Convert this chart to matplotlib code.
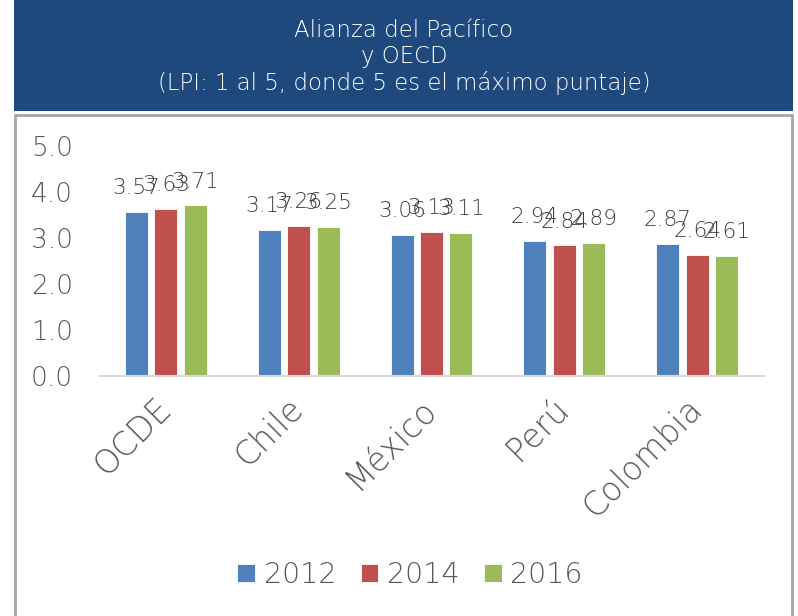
import matplotlib
matplotlib.use("Agg")
import matplotlib.pyplot as plt
from matplotlib.patches import Rectangle
import numpy as np

categories = ["OCDE", "Chile", "México", "Perú", "Colombia"]
years = ["2012", "2014", "2016"]
v2012 = [3.57, 3.17, 3.06, 2.94, 2.87]
v2014 = [3.63, 3.26, 3.13, 2.84, 2.64]
v2016 = [3.71, 3.25, 3.11, 2.89, 2.61]
series = [v2012, v2014, v2016]
colors = ["#4F81BD", "#C0504D", "#9BBB59"]
title = "Alianza del Pacífico\ny OECD\n(LPI: 1 al 5, donde 5 es el máximo puntaje)"

plt.rcParams['font.family'] = ['DejaVu Sans']
plt.rcParams['font.weight'] = 'light'
W, H = 798, 616
fig = plt.figure(figsize=(W/100, H/100), dpi=100)

# title box
fig.patches.append(Rectangle((14/W, 1-111/H), 779/W, 111/H, transform=fig.transFigure,
                             facecolor="#1F497D", edgecolor="none", zorder=-2))
fig.text(404/W, 1-57/H, title, ha="center", va="center", color="white",
         fontsize=16.5, linespacing=1.18)
# chart frame
fig.patches.append(Rectangle((15/W, -0.01), 777/W, 1-115/H + 0.01, transform=fig.transFigure,
                             facecolor="none", edgecolor="#A6A6A6", linewidth=2, zorder=-1))

ax = fig.add_axes([99.5/W, 1-376/H, 664/W, 230/H])
ax.patch.set_alpha(0)
x = np.arange(len(categories))
bw = 0.173
step = 0.222
for i, (vals, c, yr) in enumerate(zip(series, colors, years)):
    pos = x + (i-1)*step
    ax.bar(pos, vals, bw, color=c, label=yr, edgecolor="white", linewidth=0.6)
    for p, v in zip(pos, vals):
        ax.text(p, v + 0.3, f"{v:.2f}", ha="center", va="bottom", fontsize=15.5, color="#404040")

ax.set_ylim(0, 5)
ax.set_xlim(-0.5, len(categories)-0.5)
ax.set_yticks(np.arange(0, 5.01, 1.0))
ax.set_yticklabels([f"{t:.1f}" for t in np.arange(0, 5.01, 1.0)], fontsize=19, color="#595959")
ax.set_xticks(x)
ax.set_xticklabels(categories, rotation=45, ha="right", va="center", rotation_mode="anchor",
                   fontsize=23.5, color="#595959")
ax.tick_params(axis="y", length=0, pad=19)
ax.tick_params(axis="x", length=0, pad=20)
for s in ["top", "right", "left"]:
    ax.spines[s].set_visible(False)
ax.spines["bottom"].set_color("#D9D9D9")
ax.spines["bottom"].set_linewidth(1.5)

fig.legend(loc="center", bbox_to_anchor=(410/W, 1-575/H), ncol=3, frameon=False,
           fontsize=20.5, handlelength=0.63, handleheight=0.63, handletextpad=0.3,
           columnspacing=0.85, labelcolor="#595959")

fig.savefig("out.png", dpi=100)
